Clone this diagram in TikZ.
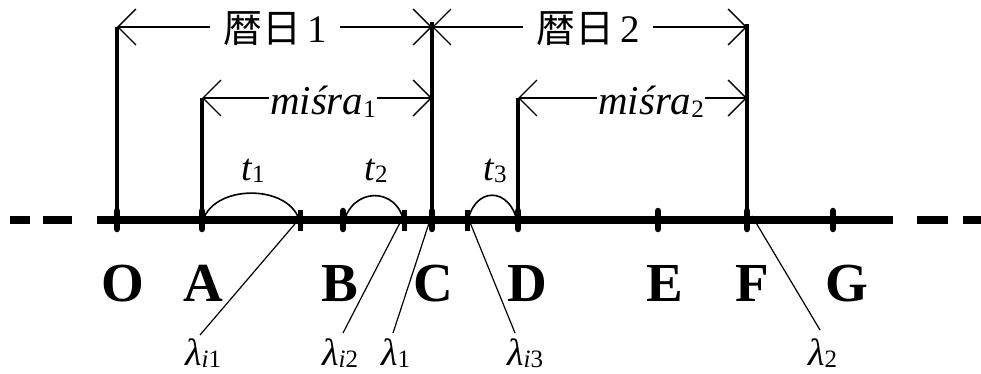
\documentclass[tikz,border=0pt]{standalone}
\usepackage{fontspec}
\setmainfont{Liberation Serif}
\newfontfamily\cjk{Noto Sans CJK JP}
\usetikzlibrary{arrows.meta}
\newcommand{\subtxt}[1]{\raisebox{-0.06em}{\fontsize{25pt}{25pt}\selectfont #1}}
\begin{document}
\begin{tikzpicture}[x=1pt,y=-1pt,
  axisline/.style={line width=8pt},
  bigtick/.style={line width=6.5pt, line cap=round},
  smalltick/.style={line width=5pt},
  vline/.style={line width=4.5pt},
  dimline/.style={line width=1.3pt,
    {Straight Barb[length=18pt,width=36pt]}-{Straight Barb[length=18pt,width=36pt]}},
  arcline/.style={line width=1.6pt},
  leader/.style={line width=1.2pt},
  ptlab/.style={font=\fontsize{55pt}{55pt}\selectfont\bfseries, anchor=base, inner sep=0pt},
  cjklab/.style={font=\fontsize{39pt}{39pt}\selectfont, fill=white, inner xsep=13pt, inner ysep=2pt},
  mislab/.style={font=\fontsize{41pt}{41pt}\selectfont\itshape, fill=white, inner xsep=1pt, inner ysep=1pt, anchor=base},
  tlab/.style={font=\fontsize{38pt}{38pt}\selectfont\itshape, inner sep=0pt},
  lamlab/.style={font=\fontsize{38pt}{38pt}\selectfont\itshape, inner sep=0pt, anchor=base west},
]
\useasboundingbox (0,0) rectangle (981,374);

% axis points
\coordinate (O) at (117,220);
\coordinate (A) at (202,220);
\coordinate (Li1) at (300,220);
\coordinate (B) at (343,220);
\coordinate (Li2) at (404,220);
\coordinate (C) at (432,220);
\coordinate (Li3) at (467,220);
\coordinate (D) at (518,220);
\coordinate (E) at (658,220);
\coordinate (F) at (747,220);
\coordinate (G) at (833,220);

% axis ends and dashes
\coordinate (axL) at (97,220);
\coordinate (axR) at (893,220);
\coordinate (dl1a) at (10,220); \coordinate (dl1b) at (30,220);
\coordinate (dl2a) at (43,220); \coordinate (dl2b) at (72,220);
\coordinate (dr1a) at (917,220); \coordinate (dr1b) at (948,220);
\coordinate (dr2a) at (963,220); \coordinate (dr2b) at (981,220);

\draw[axisline] (axL) -- (axR);
\draw[axisline] (dl1a) -- (dl1b);
\draw[axisline] (dl2a) -- (dl2b);
\draw[axisline] (dr1a) -- (dr1b);
\draw[axisline] (dr2a) -- (dr2b);

% ticks
\foreach \p in {O,A,B,C,D,E,F,G}{
  \draw[bigtick] ([yshift=-9pt]\p) -- ([yshift=9pt]\p);
}
\foreach \p in {Li1,Li2,Li3}{
  \draw[smalltick] ([yshift=-11pt]\p) -- ([yshift=10pt]\p);
}

% top points
\coordinate (O1) at (117,27);
\coordinate (C1) at (432,27);
\coordinate (F1) at (747,27);
\coordinate (C0) at (432,22);
\coordinate (F0) at (747,24);
\coordinate (A1) at (202,98);
\coordinate (C2) at (432,98);
\coordinate (D1) at (518,98);
\coordinate (F2) at (747,98);

% vertical lines
\draw[vline] (O1) -- (O);
\draw[vline] (A1) -- (A);
\draw[vline] (C0) -- (C);
\draw[vline] (D1) -- (D);
\draw[vline] (F0) -- (F);

% dimension arrows
\draw[dimline] (O1) -- (C1);
\draw[dimline] (C1) -- (F1);
\draw[dimline] (A1) -- (C2);
\draw[dimline] (D1) -- (F2);
\node[cjklab] (r1) at (275,29) {{\cjk 暦日}\,1};
\node[cjklab] (r2) at (588,29) {{\cjk 暦日}\,2};
\node[mislab] (m1) at (323,115) {miśra\subtxt{\upshape 1}};
\node[mislab] (m2) at (651,115) {miśra\subtxt{\upshape 2}};

% arcs
\draw[arcline] ([yshift=-4pt]A) .. controls (210,183) and (292,183) .. ([yshift=-3pt]Li1);
\draw[arcline] ([yshift=-6pt]B) .. controls (350,186) and (398,186) .. ([yshift=-3pt]Li2);
\draw[arcline] ([yshift=-6pt]Li3) .. controls (472,185) and (512,185) .. ([yshift=-6pt]D);
\node[tlab] (t1) at (253,171) {t\subtxt{\upshape 1}};
\node[tlab] (t2) at (376,171) {t\subtxt{\upshape 2}};
\node[tlab] (t3) at (495,171) {t\subtxt{\upshape 3}};

% point labels
\node[ptlab] (lO) at (123,301) {O};
\node[ptlab] (lA) at (203,301) {A};
\node[ptlab] (lB) at (340,301) {B};
\node[ptlab] (lC) at (433,301) {C};
\node[ptlab] (lD) at (527,301) {D};
\node[ptlab] (lE) at (665,301) {E};
\node[ptlab] (lF) at (752,301) {F};
\node[ptlab] (lG) at (847,301) {G};

% lambda labels
\node[lamlab] (l1) at (185,365) {λ\subtxt{i\upshape 1}};
\node[lamlab] (l2) at (322,365) {λ\subtxt{i\upshape 2}};
\node[lamlab] (l3) at (381,365) {λ\subtxt{\upshape 1}};
\node[lamlab] (l4) at (507,365) {λ\subtxt{i\upshape 3}};
\node[lamlab] (l5) at (808,365) {λ\subtxt{\upshape 2}};

% leader end coordinates
\coordinate (e1) at (200,335);
\coordinate (e2) at (343,333);
\coordinate (e3) at (393,333);
\coordinate (e4) at (515,333);
\coordinate (e5) at (820,330);
\draw[leader] ([yshift=2pt]Li1) -- (e1);
\draw[leader] ([yshift=5pt]Li2) -- (e2);
\draw[leader] ([yshift=6pt]C) -- (e3);
\draw[leader] ([yshift=5pt]Li3) -- (e4);
\draw[leader] ([xshift=5pt,yshift=4pt]F) -- (e5);
\end{tikzpicture}
\end{document}
